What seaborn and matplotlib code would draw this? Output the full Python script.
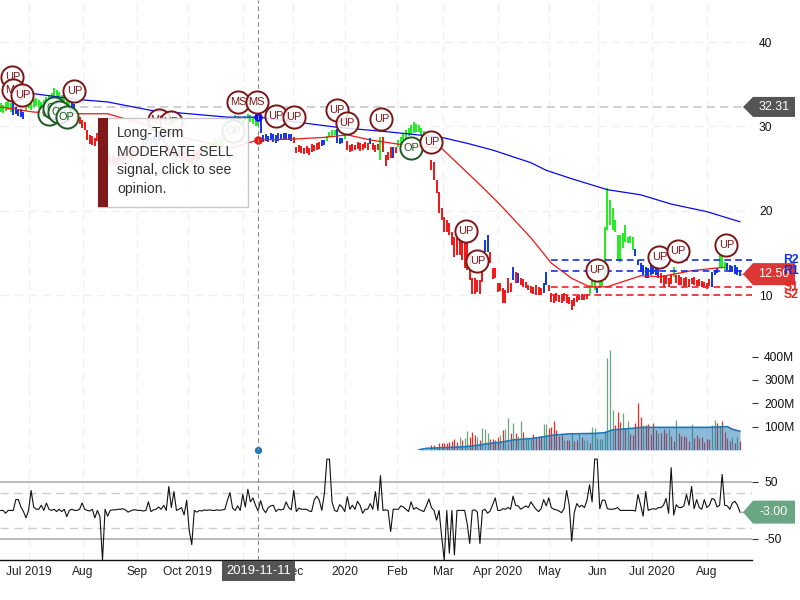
# Stock chart: price bars, moving averages, volume and CCI panels

import numpy as np
import matplotlib
matplotlib.use("Agg")
import matplotlib.pyplot as plt
from matplotlib.patches import Polygon, Rectangle
from matplotlib.transforms import IdentityTransform
import seaborn as sns

# ------------------------------------------
# Data
# ------------------------------------------

bar_high = [
    32.8, 32.5, 32.9, 33.1, 32.8, 33.2, 32.3, 31.9, 32.1, 31.7,
    32.9, 33.1, 33.0, 33.2, 33.4, 33.1, 32.9, 33.1, 33.5, 33.7,
    34.0, 34.5, 34.3, 34.1, 33.7, 34.0, 33.5, 33.1, 33.0, 32.7,
    31.2, 31.1, 30.8, 30.5, 29.6, 29.0, 28.9, 28.6, 29.2, 29.1,
    28.2, 27.8, 27.2, 26.4, 26.6, 26.3, 26.5, 26.7, 26.4, 27.0,
    27.1, 26.8, 27.2, 27.3, 27.7, 27.4, 28.4, 28.9, 29.2, 28.6,
    29.0, 28.6, 29.1, 29.6, 29.2, 28.0, 27.7, 27.4, 27.2, 27.0,
    27.2, 26.8, 27.1, 27.0, 26.7, 26.5, 27.2, 27.0, 27.2, 27.4,
    27.7, 27.8, 28.2, 28.3, 28.6, 28.4, 28.7, 28.6, 29.2, 29.6,
    29.8, 30.1, 31.3, 31.2, 31.1, 30.8, 31.2, 31.5, 31.3, 31.1,
    30.9, 31.0, 30.8, 29.0, 29.1, 28.9, 29.2, 29.1, 29.0, 29.2,
    29.1, 29.2, 29.2, 29.1, 29.1, 28.7, 27.6, 27.8, 27.7, 27.4,
    27.7, 27.4, 27.9, 27.8, 28.0, 28.2, 28.4, 28.4, 28.9, 29.3,
    29.6, 29.6, 29.7, 28.6, 28.6, 29.0, 28.3, 27.8, 27.9, 27.8,
    28.2, 28.0, 27.9, 28.2, 28.0, 28.6, 28.0, 27.8, 27.9, 28.7,
    28.7, 26.6, 27.0, 27.6, 27.6, 27.6, 28.4, 28.7, 29.2, 29.6,
    29.8, 30.2, 30.5, 30.3, 30.2, 29.8, 29.4, 29.1, 29.0, 26.0,
    25.8, 23.6, 22.2, 20.3, 19.3, 18.9, 18.6, 17.5, 16.9, 16.8,
    16.8, 16.5, 16.3, 16.3, 15.0, 12.0, 12.0, 11.8, 11.8, 13.0,
    16.5, 17.1, 15.1, 13.2, 13.2, 11.4, 11.4, 10.9, 10.6, 12.0,
    11.4, 13.3, 12.7, 12.6, 12.0, 11.9, 11.6, 11.2, 11.1, 11.0,
    11.2, 11.0, 10.9, 11.4, 12.7, 11.2, 10.3, 10.1, 10.3, 10.0,
    10.1, 10.3, 10.0, 9.8, 9.4, 9.7, 9.9, 10.0, 10.1, 10.0,
    10.1, 11.2, 11.8, 11.8, 10.9, 11.8, 12.0, 18.1, 22.7, 21.3,
    20.3, 18.9, 17.1, 17.1, 17.4, 18.3, 16.9, 17.0, 16.9, 15.5,
    14.2, 13.8, 13.6, 13.3, 13.2, 13.6, 13.6, 13.5, 13.2, 12.6,
    12.4, 12.3, 12.0, 12.5, 13.3, 12.4, 12.4, 12.2, 12.0, 12.2,
    11.9, 12.0, 12.2, 11.8, 11.9, 11.7, 11.6, 11.4, 11.9, 12.7,
    13.0, 13.2, 14.8, 14.8, 13.9, 13.8, 13.6, 13.5, 13.6, 13.3, 13.0,
]
bar_low = [
    31.7, 31.6, 31.8, 31.9, 31.7, 31.3, 31.5, 31.2, 31.1, 30.9,
    31.9, 32.2, 31.9, 32.3, 32.4, 32.2, 31.9, 32.1, 32.4, 32.7,
    32.8, 33.1, 33.0, 32.8, 32.5, 32.7, 32.3, 31.9, 31.9, 31.7,
    30.4, 30.3, 29.8, 29.6, 28.4, 27.9, 27.8, 27.7, 28.3, 28.2,
    27.0, 26.5, 25.9, 25.4, 25.5, 25.2, 25.5, 25.8, 25.4, 26.0,
    26.3, 25.8, 26.3, 26.4, 26.7, 26.5, 27.3, 27.8, 28.2, 27.7,
    28.0, 27.7, 28.2, 28.4, 28.0, 27.0, 26.7, 26.5, 26.3, 26.0,
    26.3, 25.9, 26.1, 25.8, 25.7, 25.4, 26.0, 25.8, 26.0, 26.5,
    26.7, 27.0, 27.2, 27.3, 27.6, 27.4, 27.8, 27.7, 28.2, 28.6,
    29.0, 29.2, 30.5, 30.5, 30.4, 30.1, 30.5, 30.6, 30.5, 30.3,
    30.1, 30.0, 29.2, 28.2, 28.3, 28.2, 28.4, 28.2, 28.0, 28.3,
    28.4, 28.5, 28.4, 28.4, 28.3, 28.0, 26.8, 27.0, 26.8, 26.7,
    26.8, 26.6, 27.0, 27.1, 27.2, 27.3, 27.7, 27.8, 28.3, 28.7,
    28.9, 29.0, 28.0, 27.9, 28.0, 28.5, 27.2, 27.0, 27.1, 27.2,
    27.3, 27.1, 27.2, 27.4, 27.2, 27.9, 27.2, 27.0, 27.2, 26.0,
    27.0, 25.3, 26.0, 26.3, 26.3, 26.8, 27.6, 27.9, 28.4, 28.6,
    28.9, 29.0, 29.2, 29.3, 29.3, 29.0, 28.9, 28.4, 28.3, 24.8,
    23.6, 22.1, 19.7, 18.9, 17.5, 17.5, 17.1, 16.0, 14.5, 14.8,
    14.8, 14.2, 13.2, 13.0, 11.8, 10.1, 10.1, 10.4, 10.1, 11.6,
    15.1, 15.1, 13.8, 11.9, 12.0, 10.4, 10.5, 9.1, 9.1, 10.3,
    10.4, 11.8, 11.4, 11.4, 11.2, 11.0, 10.9, 10.6, 10.3, 10.1,
    10.0, 10.0, 10.0, 10.3, 11.2, 10.5, 9.2, 9.1, 9.3, 9.2,
    9.1, 9.3, 9.1, 9.0, 8.2, 8.7, 9.2, 9.4, 9.4, 9.4,
    9.5, 10.1, 10.9, 10.6, 10.3, 10.9, 11.1, 11.8, 17.7, 18.3,
    17.7, 17.5, 14.2, 13.9, 15.6, 16.3, 16.2, 16.2, 15.4, 14.6,
    13.6, 12.7, 12.4, 12.0, 12.0, 12.4, 12.5, 12.4, 12.0, 11.4,
    11.0, 11.3, 11.0, 11.3, 12.2, 11.4, 11.2, 11.2, 11.0, 11.1,
    11.0, 11.3, 11.2, 11.1, 11.1, 11.0, 10.9, 10.7, 11.1, 11.0,
    12.4, 12.6, 13.2, 13.3, 13.0, 13.0, 12.7, 12.7, 12.5, 12.4, 12.3,
]
# colour of the price bars, as (colour, number of sessions)
bar_runs = [
    ("g", 5), ("b", 5), ("g", 18), ("b", 2), ("r", 26), ("b", 9), ("r", 15),
    ("g", 15), ("b", 1), ("g", 6), ("b", 13), ("r", 11), ("b", 2), ("g", 4),
    ("b", 3), ("g", 1), ("r", 9), ("b", 1), ("r", 3), ("g", 1), ("r", 4),
    ("b", 1), ("r", 1), ("g", 13), ("r", 21), ("b", 2), ("r", 9), ("b", 1),
    ("r", 1), ("b", 1), ("r", 9), ("b", 2), ("r", 16), ("g", 3), ("b", 1),
    ("g", 14), ("b", 10), ("r", 5), ("g", 1), ("r", 14), ("b", 3), ("g", 3),
    ("b", 6),
]

ma200_sessions = [10, 30, 42, 59, 89, 101, 119, 132, 154, 173, 183, 193, 208,
                  214, 224, 238, 251, 263, 277, 290]
ma200_values = [34.0, 33.2, 32.9, 31.9, 31.1, 31.1, 30.4, 29.9, 29.3, 28.7,
                28.0, 27.2, 25.7, 24.8, 23.8, 22.5, 21.9, 20.8, 19.9, 18.7]

ma50_sessions = [0, 13, 30, 42, 50, 62, 73, 90, 101, 115, 127, 136, 145, 156,
                 173, 180, 189, 196, 208, 216, 224, 231, 238, 246, 251, 259,
                 271, 280, 284]
ma50_values = [32.3, 31.7, 31.5, 31.5, 30.8, 29.8, 28.6, 27.4, 28.4, 28.5,
               28.7, 29.0, 28.4, 27.9, 27.4, 25.4, 22.8, 20.7, 16.8, 13.8,
               12.0, 11.0, 11.0, 11.8, 12.3, 12.2, 12.9, 13.2, 13.3]

last_price = 12.50
prev_level = 32.31
pivot_start = 216
pivot_end = 304
pivot_names = ["R2", "R1", "S1", "S2"]
pivot_values = [14.2, 12.9, 11.0, 10.0]
pivot_colors = ["#1030e8", "#1030e8", "#ee2020", "#ee2020"]

note_kinds = ["UP", "MS", "UP", "OP", "OP", "OP", "OP", "UP", "MS", "UP", "OP",
              "MS", "MS", "UP", "UP", "UP", "UP", "UP", "OP", "UP", "UP", "UP",
              "UP", "UP", "UP", "UP"]
note_sessions = [4.7, 5, 8.6, 19, 21, 23, 26, 29, 62, 66.7, 91.3, 93.3, 100.4,
                 108, 115, 132, 136, 149.4, 161, 169, 182.4, 187, 234, 258.4,
                 265.5, 284.7]
note_prices = [35.9, 34.3, 33.7, 31.5, 32.2, 31.7, 31.1, 34.2, 30.8, 30.5, 29.5,
               32.9, 32.9, 31.2, 31.1, 31.9, 30.4, 30.9, 27.4, 28.2, 17.6, 14.0,
               13.0, 14.5, 15.2, 16.0]

# volume in millions, only the last sessions show anything
volume_start = 169
volume = [
    20, 20, 14, 29, 31, 31, 31, 36, 40, 49,
    36, 54, 43, 50, 80, 54, 76, 66, 57, 43,
    96, 89, 74, 46, 46, 43, 54, 64, 86, 89,
    136, 71, 114, 71, 60, 123, 79, 57, 53, 50,
    70, 57, 54, 61, 110, 110, 93, 100, 123, 86,
    60, 64, 43, 43, 43, 71, 37, 43, 71, 57,
    43, 43, 31, 97, 93, 50, 46, 46, 83, 393,
    429, 172, 107, 162, 119, 157, 93, 123, 67, 64,
    114, 200, 140, 107, 107, 110, 67, 114, 86, 71,
    71, 89, 71, 89, 60, 40, 129, 71, 60, 60,
    57, 40, 111, 50, 64, 50, 57, 36, 49, 46,
    109, 129, 114, 103, 126, 79, 50, 40, 54, 29,
    54, 39,
]
volume_dirs = ("rrrrrrrrrr" "rgrggrrrgr" "gggrrrrgrg" "grgrggrggg" "rrrrggrrrr"
               "rrgrrgrrgr" "ggrggggggg" "ggrrrgrgrr" "rrrgrrrrrg" "rrrgrrgrrr"
               "rrgrrrrrrr" "ggrgrrrrgr" "gr")

vol_ma_sessions = [164, 165, 167, 176, 182, 187, 191, 196, 201, 209, 217, 223,
                   233, 237, 240, 248, 251, 256, 263, 269, 277, 285, 287, 290]
vol_ma_values = [0, 3, 7, 11, 14, 20, 27, 33, 43, 50, 64, 69, 71, 74, 86, 93,
                 97, 97, 97, 97, 97, 100, 89, 80]

cci = [
    0, 0, -5, 0, 0, 0, 19, 19, 6, -2,
    -13, 0, 35, 6, 2, 2, 9, 0, 13, 2,
    0, 2, -2, 2, -2, 2, -11, 0, 2, 0,
    0, 2, 13, 2, 0, -1, 2, -13, 0, -11,
    -87, 2, -10, 0, 1, 1, 2, 2, 3, 1,
    -3, -1, 1, 1, 0, 0, -1, 0, 15, -2,
    1, 2, 6, 2, 9, 0, 42, 5, 33, 0,
    2, 5, -8, 18, -35, -60, 0, -3, 0, -1,
    1, 0, 1, 0, 0, 1, 0, 1, 2, 18,
    31, 4, 0, 8, 0, 28, 6, 37, 15, 22,
    9, -1, 17, 2, -4, 5, 8, 9, -2, 2,
    1, 2, 15, 5, 1, 35, -2, 4, 2, 2,
    2, -1, -2, 18, 25, 18, 0, 29, 90, 90,
    15, 0, -2, 10, 6, -2, 24, 2, 9, 2,
    16, 9, -5, 2, 2, 12, 2, 33, 0, 61,
    0, 1, 0, -37, 2, 2, 2,
    8, 6, 2, -2, 15, 2, 5, 2, 0, -2,
    8, 20, 5, 0, -17, 0, -46, -87, 0, -75,
    0, -78, 0, 0, 0, 0, -23, -58, 0, 1,
    -3, -58, 0, 2, -5, -1, 10, 22, 0, 0,
    3, 2, 5, 2, 25, 9, 8, 2, 5, 8,
    5, 15, 8, 2, -2, 3, 19, 8, 22, 5,
    2, 1, -1, -4, 3, 35, 10, -54, -4, 12,
    6, 9, 5, 18, 45, 15, 90, 90, 3, 18,
    18, 3, 2, 2, 3, 5, 0, 0, 0, 0,
    0, 0, -1, 28, 10, -10, 33, 0, 2, 3,
    2, 5, 5, 9, 21, -5, 75, -8, 10, 5,
    5, 8, 28, 9, 42, 3, 19, 5, 2, 19,
    5, 9, 21, 19, 6, 9, 63, 9, 8, 2,
    13, 16, 9, -3,
]
cci_last = -3.00

month_sessions = [11.2, 32.4, 53.5, 73.5, 95.1, 114.7, 135.1, 155.5, 173.5,
                  195.1, 215.1, 234.3, 255.5, 277.1]
month_labels = ["Jul 2019", "Aug", "Sep", "Oct 2019", "Nov", "Dec", "2020", "Feb",
                "Mar", "Apr 2020", "May", "Jun", "Jul 2020", "Aug"]
price_ticks = [10, 20, 30, 40]
volume_ticks = [100, 200, 300, 400]
volume_tick_labels = ["100M", "200M", "300M", "400M"]
cci_ticks = [-50, 50]
cci_guides = [-30, 30]

hover_session = 101
hover_date = "2019-11-11"
tooltip_lines = "Long-Term\nMODERATE SELL\nsignal, click to see\nopinion."

# ------------------------------------------
# Style and layout
# ------------------------------------------

sns.set_style("white")
plt.rcParams["font.family"] = ["Liberation Sans", "DejaVu Sans"]
plt.rcParams["font.size"] = 8.64
plt.rcParams["axes.unicode_minus"] = False

PRICE_COLORS = {"g": "#20ee20", "b": "#0f35e6", "r": "#f01515"}
VOLUME_COLORS = {"g": "#6aa584", "r": "#ec2a22"}
GRID = "#f0f0f0"
W, H = 800, 600

fig = plt.figure(figsize=(8, 6), dpi=100)


def panel(top, bottom, right=752):
    return fig.add_axes([0, 1 - bottom / H, right / W, (bottom - top) / H])


ax_price = panel(0, 345)
ax_vol = panel(345, 450)
ax_cci = panel(450, 560)

sessions = np.arange(len(bar_high))
bar_colors = [c for c, n in bar_runs for _ in range(n)]

# ------------------------------------------
# Price panel
# ------------------------------------------

ax_price.vlines(sessions, bar_low, bar_high,
                colors=[PRICE_COLORS[c] for c in bar_colors], linewidth=1.4, zorder=3)
sns.lineplot(x=ma200_sessions, y=ma200_values, ax=ax_price, color="#0a0aee",
             linewidth=0.9, zorder=4)
sns.lineplot(x=ma50_sessions, y=ma50_values, ax=ax_price, color="#ee1515",
             linewidth=0.9, zorder=4)

ax_price.axhline(prev_level, color="#c8c8c8", linewidth=1.2, linestyle=(0, (5, 3)), zorder=2)
ax_price.plot([sessions[-1], sessions[-1] + 6], [last_price, last_price],
              color="#aaaaaa", linewidth=1, zorder=2)

for value, color in zip(pivot_values, pivot_colors):
    ax_price.plot([pivot_start, pivot_end], [value, value], color=color,
                  linewidth=1.2, linestyle=(0, (4, 2.5)), zorder=5)

# signal circles, drawn one at a time so that they overlap in order
for i, (kind, s, p) in enumerate(zip(note_kinds, note_sessions, note_prices)):
    edge = "#1c5a22" if kind == "OP" else "#7a1616"
    ax_price.scatter([s], [p], s=255, facecolor=(1, 1, 1, 0.85), edgecolor=edge,
                     linewidth=1.4, zorder=6 + i * 0.01)
    ax_price.text(s, p, kind, ha="center", va="center", fontsize=7.9, color=edge,
                  zorder=6 + i * 0.01 + 0.005)

ax_price.set_ylim(4.1, 44.98)
ax_price.set_yticks(price_ticks)

# hover dots on the two averages
ax_price.scatter([hover_session], [31.1], s=26, color="#0a0aee", zorder=5)
ax_price.scatter([hover_session], [28.4], s=26, color="#ee1515", zorder=5)

# ------------------------------------------
# Volume panel
# ------------------------------------------

vol_sessions = volume_start + np.arange(len(volume))
ax_vol.vlines(vol_sessions, 0, volume,
              colors=[VOLUME_COLORS[c] for c in volume_dirs], linewidth=0.9, zorder=2)
ax_vol.fill_between(vol_ma_sessions, 0, vol_ma_values, color="#1f77b4", alpha=0.5,
                    linewidth=0, zorder=3)
sns.lineplot(x=vol_ma_sessions, y=vol_ma_values, ax=ax_vol, color="#1f77b4",
             linewidth=1.2, zorder=4)
ax_vol.scatter([hover_session], [0], s=18, color="#1f77b4", zorder=5, clip_on=False)
ax_vol.set_ylim(0, 450)
ax_vol.set_yticks(volume_ticks)
ax_vol.set_yticklabels(volume_tick_labels)

# ------------------------------------------
# CCI panel
# ------------------------------------------

for level in cci_ticks:
    ax_cci.axhline(level, color="#b4b4b4", linewidth=1.3, zorder=2)
for level in cci_guides:
    ax_cci.axhline(level, color="#cccccc", linewidth=1, linestyle=(0, (6, 4)), zorder=2)
sns.lineplot(x=np.arange(len(cci)), y=cci, ax=ax_cci, color="#111111", linewidth=0.8, zorder=3)
ax_cci.plot([len(cci) - 1, len(cci) + 1], [cci_last, cci_last], color="#aaaaaa", linewidth=1)
ax_cci.set_ylim(-87, 106)
ax_cci.set_yticks(cci_ticks)

# ------------------------------------------
# Shared axis formatting
# ------------------------------------------

for ax in (ax_price, ax_vol, ax_cci):
    ax.set_xlim(-0.2, 294.7)
    ax.set_xticks(month_sessions)
    ax.grid(axis="x", color=GRID, linewidth=1, linestyle=(0, (6, 4)), zorder=0)
    ax.yaxis.tick_right()
    ax.axvline(hover_session, color="#8a8a8a", linewidth=0.8, linestyle=(0, (4, 3)), zorder=5)
    sns.despine(ax=ax, left=True, right=True, top=True, bottom=True)
    ax.patch.set_alpha(0)
    ax.tick_params(axis="x", length=0, labelbottom=False)
    ax.tick_params(axis="y", length=4.3, width=0.8, color="#333333", pad=4.5,
                   labelsize=8.64, labelcolor="#111111")

ax_price.grid(axis="y", color=GRID, linewidth=1, linestyle=(0, (6, 4)), zorder=0)
ax_price.tick_params(axis="y", length=0, pad=5)
ax_cci.spines["bottom"].set_visible(True)
ax_cci.spines["bottom"].set_color("#111111")
ax_cci.spines["bottom"].set_linewidth(1)
ax_cci.tick_params(axis="x", labelbottom=True, pad=4, labelsize=8.64, labelcolor="#222222")
ax_cci.set_xticklabels(month_labels)


# value tags on the right hand side
def value_tag(ax, value, label, color, half, text_x=774):
    y = ax.transData.transform((0, value))[1]
    pts = [(743, y), (753, y + half), (795, y + half), (795, y - half), (753, y - half)]
    ax.add_patch(Polygon(pts, closed=True, facecolor=color, edgecolor="none",
                         transform=IdentityTransform(), clip_on=False, zorder=20))
    ax.text(text_x, y, label, color="white", ha="center", va="center", fontsize=9,
            transform=IdentityTransform(), clip_on=False, zorder=21)


value_tag(ax_price, prev_level, f"{prev_level:.2f}", "#555555", 10)
value_tag(ax_price, last_price, f"{last_price:.2f}", "#dc3636", 11)
value_tag(ax_cci, cci_last, f"{cci_last:.2f}", "#6aa584", 11.5)

for name, value, color in zip(pivot_names, pivot_values, pivot_colors):
    ax_price.annotate(name, xy=(1, value), xycoords=ax_price.get_yaxis_transform(),
                      xytext=(22.5, 0), textcoords="offset points", va="center",
                      fontsize=8.8, fontweight="bold", color=color,
                      annotation_clip=False, zorder=25)

# ------------------------------------------
# Tooltip and hover date
# ------------------------------------------

fig.add_artist(Rectangle((98 / W, 1 - 207 / H), 150 / W, 89 / H, facecolor=(1, 1, 1, 0.9),
                         edgecolor="#c8c8c8", linewidth=1, zorder=10))
fig.add_artist(Rectangle((98 / W, 1 - 207 / H), 10 / W, 89 / H, facecolor="#7f1a1a",
                         edgecolor="none", zorder=11))
fig.text(117 / W, 1 - 161 / H, tooltip_lines, fontsize=10.1, color="#333333",
         va="center", ha="left", linespacing=1.42, zorder=12)

fig.text(258.5 / W, 1 - 571 / H, hover_date, fontsize=9.4, color="white", ha="center", va="center",
         zorder=12, bbox=dict(facecolor="#555555", edgecolor="none", pad=3.2))

fig.savefig("out.png", dpi=100)
